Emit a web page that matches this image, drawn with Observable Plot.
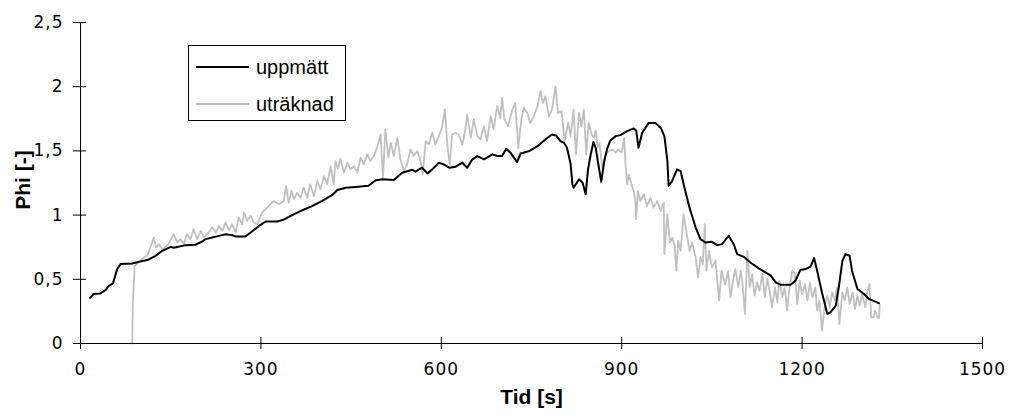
<!DOCTYPE html>
<html>
<head>
<meta charset="utf-8">
<script src="https://cdn.jsdelivr.net/npm/d3@7"></script>
<script src="https://cdn.jsdelivr.net/npm/@observablehq/plot@0.6"></script>
<style>
  html, body { margin: 0; padding: 0; background: #fff; }
  #wrap { position: relative; width: 1010px; height: 418px; }
  #legend { position: absolute; left: 188px; top: 45px; width: 158px; height: 76px;
    border: 1px solid #000; box-sizing: border-box; background: #fff;
    font-family: "Liberation Sans", Arial, sans-serif; font-size: 20px; color: #000; }
  .item { position: absolute; left: 7px; height: 24px; display: flex; align-items: center; }
  .swatch { width: 53px; height: 0; border-top: 2px solid #000; margin-right: 7px; }
  svg [aria-label$="tick label"] text { letter-spacing: 1px; }
</style>
</head>
<body>
<div id="wrap"><div id="legend"></div></div>
<script>
// ---- data ----
const xTicks = [0, 300, 600, 900, 1200, 1500];
const yTicks = [0, 0.5, 1, 1.5, 2, 2.5];
const seriesNames = ["uppmätt", "uträknad"];
const seriesColors = ["#000000", "#c0c0c0"];

const uppmattT = [16,22,33,42,47,54,57,61,67,86,97,111,125,136,150,155,175,191,202,208,219,230,241,252,258,274,283,297,308,327,338,352,369,385,402,419,427,441,457,479,491,502,521,535,552,557,568,577,585,596,604,613,624,635,643,651,660,671,685,693,701,708,715,726,732,746,760,773,784,791,798,804,809,815,818,820,829,835,840,844,848,853,857,861,866,871,876,881,890,898,909,920,924,928,934,945,956,965,971,976,978,984,992,998,1003,1012,1023,1031,1039,1050,1059,1067,1073,1078,1087,1092,1103,1114,1128,1139,1148,1156,1164,1181,1189,1197,1206,1214,1220,1225,1233,1242,1247,1256,1261,1267,1272,1279,1283,1292,1303,1311,1322,1328];
const uppmattPhi = [0.355,0.386,0.39,0.417,0.448,0.468,0.515,0.58,0.62,0.623,0.637,0.65,0.683,0.722,0.753,0.745,0.766,0.769,0.794,0.813,0.825,0.838,0.85,0.844,0.833,0.833,0.864,0.916,0.95,0.95,0.965,1.0,1.038,1.07,1.11,1.157,1.196,1.213,1.219,1.229,1.271,1.279,1.273,1.33,1.353,1.338,1.369,1.325,1.356,1.408,1.395,1.369,1.377,1.408,1.369,1.43,1.46,1.434,1.473,1.46,1.46,1.517,1.486,1.413,1.48,1.498,1.537,1.589,1.628,1.62,1.576,1.563,1.524,1.40,1.24,1.213,1.279,1.252,1.162,1.356,1.46,1.57,1.52,1.40,1.26,1.42,1.52,1.58,1.615,1.623,1.654,1.675,1.659,1.524,1.641,1.718,1.718,1.679,1.615,1.421,1.227,1.266,1.356,1.343,1.24,1.071,0.903,0.813,0.787,0.792,0.766,0.774,0.81,0.839,0.765,0.696,0.675,0.631,0.585,0.554,0.528,0.476,0.458,0.458,0.489,0.572,0.58,0.598,0.665,0.567,0.398,0.23,0.243,0.295,0.437,0.644,0.696,0.683,0.567,0.425,0.386,0.347,0.326,0.313];

const utraknadT = [86,87,90,100,105,111,116,122,126,130,136,144,150,155,161,166,172,177,183,188,194,200,205,208,213,219,225,230,236,241,247,252,258,263,269,272,277,283,288,294,302,310,321,330,338,342,346,351,355,360,366,371,377,382,388,394,399,405,410,416,421,424,428,432,438,444,449,455,460,466,471,477,482,488,493,499,503,507,512,516,521,527,532,538,543,549,554,560,565,569,574,579,585,590,596,601,606,610,614,618,624,629,635,640,643,649,654,660,665,671,676,682,687,693,698,701,705,711,718,723,728,733,737,743,748,754,760,765,769,773,779,784,790,794,800,805,811,815,820,824,829,833,837,841,845,850,854,857,860,863,868,873,879,884,890,894,900,904,906,909,912,917,920,923,924,927,931,937,942,948,953,959,965,970,971,976,980,984,988,991,994,998,1003,1009,1013,1017,1023,1027,1031,1035,1038,1041,1045,1050,1056,1062,1066,1072,1077,1081,1085,1089,1094,1098,1101,1105,1109,1113,1117,1121,1125,1129,1134,1138,1142,1146,1150,1155,1159,1162,1167,1171,1175,1179,1184,1188,1192,1196,1200,1205,1209,1213,1217,1222,1225,1229,1233,1238,1242,1246,1250,1255,1258,1262,1267,1271,1275,1279,1284,1288,1292,1296,1300,1305,1308,1312,1315,1319,1321,1326,1328,1329];
const utraknadPhi = [0,0.31,0.606,0.644,0.67,0.683,0.748,0.825,0.748,0.774,0.735,0.761,0.805,0.852,0.787,0.813,0.774,0.852,0.813,0.89,0.813,0.877,0.83,0.84,0.864,0.903,0.864,0.916,0.877,0.942,0.883,0.929,0.864,0.981,0.929,1.02,0.955,0.994,0.942,0.929,1.02,1.058,1.11,1.085,1.11,1.227,1.097,1.188,1.123,1.175,1.136,1.213,1.136,1.24,1.149,1.266,1.201,1.304,1.24,1.382,1.24,1.42,1.36,1.44,1.33,1.408,1.356,1.382,1.33,1.447,1.395,1.473,1.421,1.46,1.524,1.628,1.291,1.667,1.447,1.563,1.46,1.602,1.434,1.343,1.395,1.511,1.46,1.498,1.434,1.317,1.576,1.551,1.641,1.551,1.615,1.679,1.822,1.551,1.395,1.628,1.641,1.628,1.551,1.667,1.783,1.602,1.745,1.615,1.589,1.693,1.576,1.77,1.667,1.848,1.757,1.912,1.745,1.693,1.822,1.873,1.524,1.745,1.835,1.796,1.718,1.77,1.848,1.964,1.873,1.925,1.77,1.822,2.003,1.796,1.81,1.576,1.718,1.615,1.822,1.473,1.796,1.693,1.822,1.473,1.718,1.628,1.60,1.66,1.53,1.56,1.36,1.473,1.498,1.511,1.486,1.511,1.486,1.602,1.421,1.24,1.317,1.227,1.188,1.097,0.968,1.188,1.11,1.162,1.071,1.136,1.058,1.11,1.033,1.097,0.696,1.007,0.787,0.825,0.761,0.567,0.8,0.722,1.007,0.825,0.722,0.787,0.67,0.515,0.67,0.619,0.929,0.567,0.722,0.593,0.644,0.334,0.567,0.46,0.56,0.36,0.489,0.58,0.437,0.567,0.463,0.23,0.722,0.437,0.541,0.373,0.476,0.411,0.541,0.36,0.502,0.411,0.282,0.437,0.321,0.489,0.36,0.437,0.256,0.437,0.567,0.541,0.308,0.489,0.386,0.463,0.334,0.476,0.36,0.437,0.256,0.334,0.101,0.308,0.373,0.282,0.398,0.334,0.437,0.153,0.398,0.334,0.437,0.308,0.398,0.27,0.373,0.295,0.386,0.282,0.398,0.463,0.204,0.204,0.256,0.2,0.2,0.3];

// ---- build tables ----
const uppmatt = uppmattT.map((t, i) => ({t, phi: uppmattPhi[i]}));
const utraknad = utraknadT.map((t, i) => ({t, phi: utraknadPhi[i]}));

const chart = Plot.plot({
  width: 1010,
  height: 418,
  marginLeft: 80,
  marginRight: 28,
  marginTop: 22,
  marginBottom: 75,
  style: {fontFamily: "'DejaVu Sans', sans-serif", fontSize: "17px", color: "#000", background: "#fff", overflow: "visible"},
  x: {domain: [0, 1500], label: null},
  y: {domain: [0, 2.5], label: null},
  marks: [
    Plot.line(utraknad, {x: "t", y: "phi", stroke: seriesColors[1], strokeWidth: 1.8, strokeLinejoin: "round"}),
    Plot.line(uppmatt, {x: "t", y: "phi", stroke: seriesColors[0], strokeWidth: 2, strokeLinejoin: "round"}),
    Plot.ruleX([0], {stroke: "#000", strokeWidth: 1}),
    Plot.ruleY([0], {stroke: "#000", strokeWidth: 1}),
    Plot.axisX({ticks: xTicks, tickSize: 12, dy: -6, tickFormat: () => "", label: null, stroke: "#000", strokeOpacity: 1}),
    Plot.axisX({ticks: xTicks, tickSize: 0, tickPadding: 19, tickFormat: d => String(d), label: null, fill: "#000"}),
    Plot.axisY({ticks: yTicks, tickSize: 13, dx: 6, tickFormat: () => "", label: null, stroke: "#000", strokeOpacity: 1}),
    Plot.axisY({ticks: yTicks, tickSize: 0, tickPadding: 17, tickFormat: d => String(d).replace(".", ","), label: null, fill: "#000"}),
    Plot.text(["Tid [s]"], {text: d => d, frameAnchor: "bottom", dy: 53.5, lineAnchor: "middle",
      fontFamily: "'Liberation Sans', Arial, sans-serif", fontWeight: "bold", fontSize: 21, fill: "#000"}),
    Plot.text(["Phi [-]"], {text: d => d, frameAnchor: "left", dx: -57.5, dy: -3, rotate: -90, textAnchor: "middle", lineAnchor: "middle",
      fontFamily: "'Liberation Sans', Arial, sans-serif", fontWeight: "bold", fontSize: 21, fill: "#000"})
  ]
});
const wrap = document.getElementById("wrap");
wrap.insertBefore(chart, wrap.firstChild);

// ---- legend ----
const legend = document.getElementById("legend");
const legendTops = [9, 46];
seriesNames.forEach((name, i) => {
  const item = document.createElement("div");
  item.className = "item";
  item.style.top = legendTops[i] + "px";
  const sw = document.createElement("span");
  sw.className = "swatch";
  sw.style.borderTopColor = seriesColors[i];
  const label = document.createElement("span");
  label.textContent = name;
  item.appendChild(sw);
  item.appendChild(label);
  legend.appendChild(item);
});
</script>
</body>
</html>
